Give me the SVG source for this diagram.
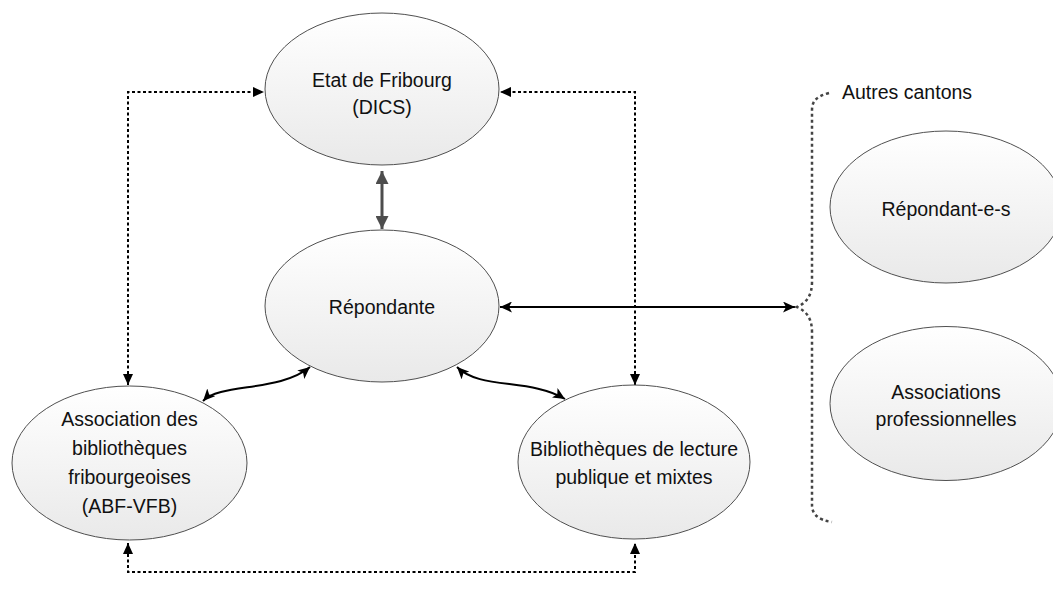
<svg xmlns="http://www.w3.org/2000/svg" width="1053" height="602" viewBox="0 0 1053 602">
  <style>
    .node ellipse { fill: url(#g); stroke: #505050; stroke-width: 1; }
    .node text { font-family: "Liberation Sans", Arial, sans-serif; font-size: 19.5px; fill: #111; text-anchor: middle; }
    .dot { fill: none; stroke: #000; stroke-width: 2; stroke-dasharray: 3 2.5; }
    .solid { fill: none; stroke: #000; stroke-width: 2; }
    .grey { fill: none; stroke: #4d4d4d; stroke-width: 3; }
    .brace { fill: none; stroke: #444; stroke-width: 2.5; stroke-dasharray: 3 3; }
    .label { font-family: "Liberation Sans", Arial, sans-serif; font-size: 19.5px; fill: #111; }
  </style>
  <defs>
    <linearGradient id="g" x1="0" y1="0" x2="0" y2="1">
      <stop offset="0" stop-color="#ffffff"/>
      <stop offset="1" stop-color="#e9e9e9"/>
    </linearGradient>
    <marker id="ah" markerUnits="userSpaceOnUse" markerWidth="12" markerHeight="10" refX="11" refY="5" orient="auto-start-reverse">
      <path d="M0,0 L11,5 L0,10 z" fill="#000"/>
    </marker>
    <marker id="ahs" markerUnits="userSpaceOnUse" markerWidth="13" markerHeight="11" refX="12" refY="5.5" orient="auto-start-reverse">
      <path d="M0,0 L12,5.5 L0,11 L3,5.5 z" fill="#000"/>
    </marker>
    <marker id="ahg" markerUnits="userSpaceOnUse" markerWidth="13" markerHeight="13" refX="13" refY="6.5" orient="auto-start-reverse">
      <path d="M0,0 L13,6.5 L0,13 z" fill="#4d4d4d"/>
    </marker>
  </defs>

  <g id="connectors">
    <path class="dot" d="M128 385 V92 H264" marker-start="url(#ah)" marker-end="url(#ah)"/>
    <path class="dot" d="M635 385 V92 H500" marker-start="url(#ah)" marker-end="url(#ah)"/>
    <path class="dot" d="M128 543 V572 H635 V543" marker-start="url(#ah)" marker-end="url(#ah)"/>
    <path class="grey" d="M382 171 V229" marker-start="url(#ahg)" marker-end="url(#ahg)"/>
    <path class="solid" d="M500 307 H795" marker-start="url(#ahs)" marker-end="url(#ahs)"/>
    <path class="solid" d="M203 401 C220 383 280 392 310 367" marker-start="url(#ahs)" marker-end="url(#ahs)"/>
    <path class="solid" d="M457 367 C480 390 530 378 565 399" marker-start="url(#ahs)" marker-end="url(#ahs)"/>
    <path class="brace" d="M829 93 C818 96 812 100 812 110 V282 C812 296 806 303 797 307 C806 311 812 318 812 332 V505 C812 514 818 520 832 522"/>
  </g>

  <g id="etat" class="node">
    <ellipse cx="382" cy="89" rx="117" ry="76"/>
    <text x="382" y="87">Etat de Fribourg</text>
    <text x="382" y="114">(DICS)</text>
  </g>
  <g id="repondante" class="node">
    <ellipse cx="382" cy="306" rx="117" ry="76"/>
    <text x="382" y="314">Répondante</text>
  </g>
  <g id="abf" class="node">
    <ellipse cx="129.5" cy="463" rx="117.5" ry="77"/>
    <text x="129.5" y="426">Association des</text>
    <text x="129.5" y="455">bibliothèques</text>
    <text x="129.5" y="484">fribourgeoises</text>
    <text x="129.5" y="513">(ABF-VFB)</text>
  </g>
  <g id="bibliotheques" class="node">
    <ellipse cx="634" cy="462" rx="116" ry="77"/>
    <text x="634" y="456">Bibliothèques de lecture</text>
    <text x="634" y="484">publique et mixtes</text>
  </g>
  <g id="repondants" class="node">
    <ellipse cx="946" cy="207" rx="116" ry="76"/>
    <text x="946" y="216">Répondant-e-s</text>
  </g>
  <g id="associations" class="node">
    <ellipse cx="946" cy="403.5" rx="116" ry="77"/>
    <text x="946" y="399">Associations</text>
    <text x="946" y="426">professionnelles</text>
  </g>
  <g id="autres">
    <text class="label" x="842" y="99">Autres cantons</text>
  </g>
</svg>
